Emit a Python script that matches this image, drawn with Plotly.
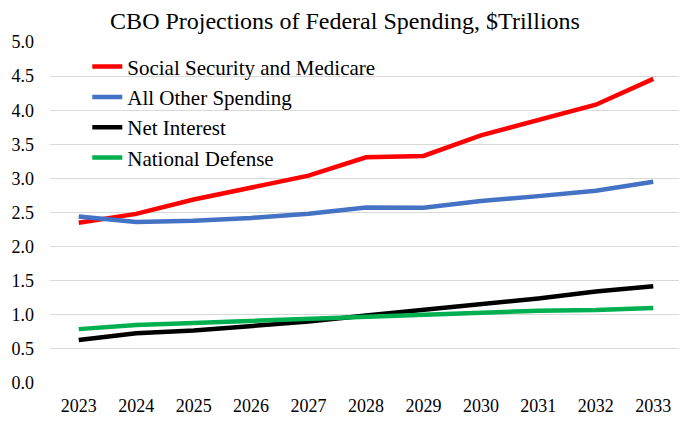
import plotly.graph_objects as go

years = ["2023", "2024", "2025", "2026", "2027", "2028", "2029", "2030", "2031", "2032", "2033"]
social_security_medicare = [2.35, 2.48, 2.69, 2.87, 3.04, 3.31, 3.33, 3.63, 3.86, 4.08, 4.46]
all_other_spending = [2.44, 2.36, 2.38, 2.42, 2.48, 2.575, 2.57, 2.67, 2.74, 2.82, 2.95]
net_interest = [0.63, 0.73, 0.77, 0.83, 0.90, 0.99, 1.07, 1.15, 1.24, 1.34, 1.42]
national_defense = [0.79, 0.85, 0.88, 0.91, 0.94, 0.97, 1.00, 1.03, 1.06, 1.07, 1.10]
y_ticks = [0.0, 0.5, 1.0, 1.5, 2.0, 2.5, 3.0, 3.5, 4.0, 4.5, 5.0]

series = [
    ("Social Security and Medicare", social_security_medicare, "#FF0000"),
    ("All Other Spending", all_other_spending, "#4472C4"),
    ("Net Interest", net_interest, "#000000"),
    ("National Defense", national_defense, "#00B050"),
]

font_family = "Liberation Serif"

fig = go.Figure()
for name, vals, color in series:
    fig.add_trace(go.Scatter(
        x=years, y=vals, name=name, mode="lines",
        line=dict(color=color, width=4.5),
    ))

fig.update_layout(
    width=687, height=422,
    margin=dict(l=42, r=13, t=34, b=47),
    paper_bgcolor="white", plot_bgcolor="white",
    font=dict(family=font_family, size=18, color="#000000"),
    title=dict(text="CBO Projections of Federal Spending, $Trillions",
               x=337 / 687, xanchor="center", y=0.9692, yanchor="middle",
               font=dict(family=font_family, size=24, color="#000000")),
    showlegend=True,
    legend=dict(x=0.059, y=0.987, xanchor="left", yanchor="top",
                bgcolor="rgba(0,0,0,0)", font=dict(family=font_family, size=21),
                tracegroupgap=0, itemwidth=30),
    xaxis=dict(type="category", showgrid=False, showline=False, zeroline=False,
               ticks="", ticklabelstandoff=10, automargin=False,
               tickfont=dict(family=font_family, size=18), range=[-0.5, 10.5]),
    yaxis=dict(range=[0, 5.0], tickvals=y_ticks,
               ticktext=[f"{v:.1f}" for v in y_ticks],
               showgrid=True, gridcolor="#D9D9D9", gridwidth=1, automargin=False,
               zeroline=False, showline=False, ticks="", ticklabelstandoff=15,
               tickfont=dict(family=font_family, size=18)),
)

fig.write_html("out.html")
